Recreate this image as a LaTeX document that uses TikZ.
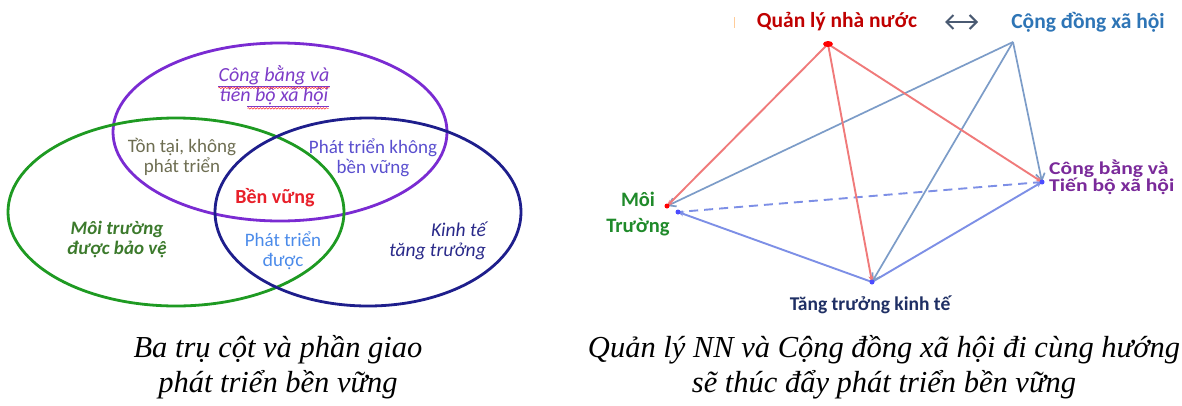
\documentclass[tikz,border=0pt]{standalone}
\usepackage{fontspec}
\setmainfont{Liberation Serif}
\newfontfamily\labelfont{Carlito}
\usetikzlibrary{arrows.meta,decorations.pathmorphing}

% Venn colours
\definecolor{vpurple}{HTML}{7A2BD2}
\definecolor{vgreen}{HTML}{1E9A22}
\definecolor{vnavy}{HTML}{1E1E8C}
\definecolor{tpurple}{HTML}{7D3CC8}
\definecolor{tolive}{HTML}{6E6E52}
\definecolor{tviolet}{HTML}{5A4FCF}
\definecolor{tred}{HTML}{E8202A}
\definecolor{tgreen}{HTML}{3C7A2C}
\definecolor{tsky}{HTML}{4B8BEA}
\definecolor{tnavy}{HTML}{2A2A8A}
% network colours
\definecolor{qred}{HTML}{C00000}
\definecolor{cblue}{HTML}{2E75B6}
\definecolor{cbpurple}{HTML}{7A2A9A}
\definecolor{mtgreen}{HTML}{1F8A2A}
\definecolor{ttnavy}{HTML}{1F2F64}
\definecolor{lred}{HTML}{F07A7A}
\definecolor{lsteel}{HTML}{7C9CC8}
\definecolor{lblue}{HTML}{7D8FE6}
\definecolor{arrgray}{HTML}{4A5A72}

\newcommand{\wide}[1]{\scalebox{1.2}[1]{#1}}

\tikzset{
  vring/.style={line width=2.8pt},
  vtext/.style={font=\labelfont\fontsize{19}{20}\selectfont, align=center, inner sep=0pt},
  nlabel/.style={font=\labelfont\bfseries\fontsize{21.5}{26}\selectfont, align=center, inner sep=0pt},
  redline/.style={draw=lred, line width=1.9pt, -{Stealth[length=6pt,width=5pt]}},
  steelline/.style={draw=lsteel, line width=1.7pt, -{Straight Barb[length=7pt,width=9pt]}},
  blueline/.style={draw=lblue, line width=1.9pt, -{Stealth[length=6pt,width=5pt]}},
  dashline/.style={draw=lblue, line width=1.9pt, dash pattern=on 9pt off 6pt},
  caption/.style={font=\itshape\fontsize{30.5}{36}\selectfont, anchor=base, inner sep=0pt},
  squiggle/.style={draw=red!80, line width=0.5pt, decorate,
    decoration={snake, amplitude=0.8pt, segment length=3pt}},
}

\begin{document}
\begin{tikzpicture}[x=1pt, y=-1pt]
\useasboundingbox (0,0) rectangle (1182,405);
\fill[white] (0,0) rectangle (1182,405);

% ---------- three pillars ----------
\draw[vring, vpurple] (280,132) ellipse [x radius=167, y radius=89];
\draw[vring, vgreen] (176,212) ellipse [x radius=168, y radius=94];
\draw[vring, vnavy] (368,212) ellipse [x radius=153, y radius=94];

\node[vtext, text=tpurple, font=\labelfont\itshape\fontsize{20}{20}\selectfont] (cb1) at (274,75) {Công bằng và};
\node[vtext, text=tpurple, font=\labelfont\itshape\fontsize{20}{20}\selectfont] (cb2) at (274,96) {tiến bộ xã hội};
\draw[tpurple, line width=0.6pt] ([yshift=-1pt]cb1.south west) -- ([yshift=-1pt]cb1.south east);
\draw[tpurple, line width=0.6pt] ([xshift=28pt,yshift=-1pt]cb2.south west) -- ([yshift=-1pt]cb2.south east);
\draw[squiggle] ([yshift=-3pt]cb1.south west) -- ([yshift=-3pt]cb1.south east);
\draw[squiggle] ([xshift=28pt,yshift=-3pt]cb2.south west) -- ([yshift=-3pt]cb2.south east);

\node[vtext, text=tolive] (ton) at (182,157) {Tồn tại, không\\phát triển};
\node[vtext, text=tviolet] (ptk) at (373,158) {Phát triển không\\bền vững};
\node[vtext, text=tred, font=\labelfont\bfseries\fontsize{20}{20}\selectfont] (bv) at (275,198) {Bền vững};
\node[vtext, text=tgreen, font=\labelfont\bfseries\itshape\fontsize{19}{20}\selectfont] (mtv) at (117,240) {Môi trường\\được bảo vệ};
\node[vtext, text=tsky] (ptd) at (283,251) {Phát triển\\được};
\node[vtext, text=tnavy, align=right, anchor=east, font=\labelfont\itshape\fontsize{19.5}{20}\selectfont] (kt) at (486,241) {Kinh tế\\tăng trưởng};

% ---------- captions ----------
\node[caption] (capLa) at (278,357) {Ba trụ cột và phần giao};
\node[caption] (capLb) at (278,392) {phát triển bền vững};
\node[caption] (capRa) at (884,357) {Quản lý NN và Cộng đồng xã hội đi cùng hướng};
\node[caption] (capRb) at (884,392) {sẽ thúc đẩy phát triển bền vững};

% ---------- network ----------
\coordinate (Q) at (828,44);
\coordinate (C) at (1013,42);
\coordinate (B) at (1042,182);
\coordinate (M) at (667,206);
\coordinate (M2) at (678,212);
\coordinate (T) at (872,282);

\node[nlabel, text=qred] (ql) at (837,22) {Quản lý nhà nước};
\node[nlabel, text=cblue] (cd) at (1088,22) {Cộng đồng xã hội};
\coordinate (pa) at (945,22);
\coordinate (pb) at (978,22);
\draw[arrgray, line width=2pt, {Straight Barb[length=7pt,width=14pt]}-{Straight Barb[length=7pt,width=14pt]}] (pa) -- (pb);
\coordinate (mk1) at (734,17);
\coordinate (mk2) at (734,28);
\draw[orange!40, line width=0.8pt] (mk1) -- (mk2);

\node[nlabel, text=cbpurple, align=left, anchor=west, font=\labelfont\bfseries\fontsize{18}{17}\selectfont] (cb) at (1049,177) {\wide{Công bằng và}\\\wide{Tiến bộ xã hội}};
\node[nlabel, text=mtgreen, font=\labelfont\bfseries\fontsize{20.5}{26}\selectfont] (mt) at (638,214) {Môi\\Trường};
\node[nlabel, text=ttnavy, font=\labelfont\bfseries\fontsize{19.5}{24}\selectfont] (tt) at (870,305) {Tăng trưởng kinh tế};

\draw[dashline] (B) -- (M2);
\draw[blueline] (T) -- (M2);
\draw[blueline] (T) -- (B);
\draw[steelline] (C) -- (M);
\draw[steelline] (C) -- (T);
\draw[steelline] (C) -- (B);
\draw[redline] (Q) -- (M);
\draw[redline] (Q) -- (T);
\draw[redline] (Q) -- (B);
\fill[red] (Q) ellipse [x radius=5, y radius=3];
\fill[red] (M) circle (2.5);
\fill[blue!70] (M2) circle (2.5);
\fill[blue!70] (T) circle (2.5);
\fill[blue!70] (B) circle (2.5);
\end{tikzpicture}
\end{document}
